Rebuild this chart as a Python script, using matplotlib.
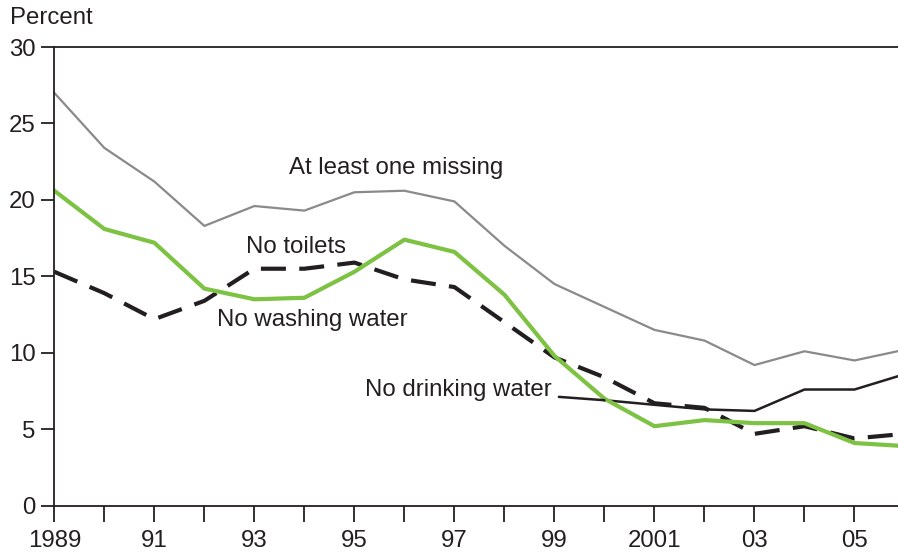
import matplotlib
matplotlib.use('Agg')
import matplotlib.pyplot as plt

plt.rcParams['font.family'] = ['Liberation Sans', 'DejaVu Sans']

# data (percent)
years = list(range(1989, 2007))
at_least_one = [27.0, 23.4, 21.2, 18.3, 19.6, 19.3, 20.5, 20.6, 19.9, 17.0,
                14.5, 13.0, 11.5, 10.8, 9.2, 10.1, 9.5, 10.2]
no_washing = [20.6, 18.1, 17.2, 14.2, 13.5, 13.6, 15.3, 17.4, 16.6, 13.8,
              9.8, 7.0, 5.2, 5.6, 5.4, 5.4, 4.1, 3.9]
no_toilets = [15.3, 13.9, 12.2, 13.4, 15.5, 15.5, 15.9, 14.8, 14.3, 12.0,
              9.7, 8.4, 6.7, 6.4, 4.7, 5.2, 4.4, 4.7]
drink_years = list(range(2000, 2007))
no_drinking = [6.9, 6.6, 6.3, 6.2, 7.6, 7.6, 8.6]

tick_years = list(range(1989, 2006))
tick_labels = ['1989', '', '91', '', '93', '', '95', '', '97', '', '99', '',
               '2001', '', '03', '', '05']

fs = 17.3

fig = plt.figure(figsize=(8.98, 5.53), dpi=100)
ax = fig.add_axes([0.0605, 0.0855, 0.9395, 0.8295])

ax.plot(years, at_least_one, color='#8a8a8c', lw=1.6)
ax.plot(drink_years, no_drinking, color='#231f20', lw=1.8)
ax.plot(years, no_toilets, color='#231f20', lw=3, dashes=(6, 3.2))
ax.plot(years, no_washing, color='#7dc242', lw=3)

ax.set_xlim(1989, 2005.87)
ax.set_ylim(0, 30)
ax.set_xticks(tick_years)
ax.set_xticklabels(tick_labels)
ax.set_yticks([0, 5, 10, 15, 20, 25, 30])

ax.spines['right'].set_visible(False)
for s in ['left', 'top', 'bottom']:
    ax.spines[s].set_color('#231f20')
    ax.spines[s].set_linewidth(1.3)
ax.tick_params(axis='y', direction='out', length=9.5, width=1.3, color='#231f20',
               labelsize=fs, labelcolor='#231f20', pad=4)
ax.tick_params(axis='x', direction='out', length=11.5, width=1.3, color='#231f20',
               labelsize=fs, labelcolor='#231f20', pad=6)
ax.spines['left'].set_zorder(5)

fig.text(0.011, 0.967, 'Percent', fontsize=fs, color='#231f20', va='center')

txt = dict(fontsize=fs, color='#231f20', va='center')
ax.text(1993.69, 22.1, 'At least one missing', **txt)
ax.text(1992.83, 16.95, 'No toilets', **txt)
ax.text(1992.26, 12.15, 'No washing water', **txt)
ax.annotate('No drinking water', xy=(2000, no_drinking[0]), xytext=(1998.95, 7.6),
            ha='right', va='center', fontsize=fs, color='#231f20',
            arrowprops=dict(arrowstyle='-', color='#231f20', lw=1.8,
                            shrinkA=3, shrinkB=0))

fig.savefig('out.png', dpi=100)
